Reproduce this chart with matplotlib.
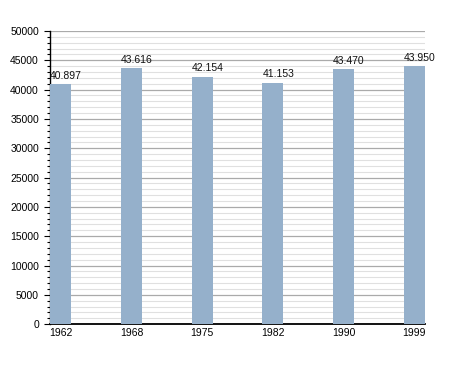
import matplotlib.pyplot as plt
from matplotlib.ticker import MultipleLocator

years = ["1962", "1968", "1975", "1982", "1990", "1999"]
population = [40897, 43616, 42154, 41153, 43470, 43950]
value_labels = ["40.897", "43.616", "42.154", "41.153", "43.470", "43.950"]

plt.rcParams["font.family"] = ["Liberation Sans", "DejaVu Sans"]

fig = plt.figure(figsize=(4.55, 3.73), dpi=100)
ax = fig.add_axes([0.110, 0.131, 0.824, 0.786])

width = 0.3
x = list(range(len(years)))
bars = ax.bar(x, population, width=width, color="#95b0cb", zorder=3)

for xi, val, lab in zip(x, population, value_labels):
    ax.text(xi - width / 2, val + 600, lab, ha="left", va="bottom",
            fontsize=7.5, color="#111111", zorder=4)

ax.set_xlim(-width / 2, len(years) - 1 + width / 2)
ax.set_ylim(0, 50000)
ax.set_xticks(x)
ax.set_xticklabels(years, fontsize=7.5)
ax.yaxis.set_major_locator(MultipleLocator(5000))
ax.yaxis.set_minor_locator(MultipleLocator(1000))
ax.tick_params(axis="y", labelsize=7.5, length=4, width=0.8, pad=4)
ax.tick_params(axis="y", which="minor", length=2.5, width=0.8)
ax.tick_params(axis="x", length=0, pad=3)

ax.grid(axis="y", which="major", color="#aaaaaa", linewidth=0.9, zorder=1)
ax.grid(axis="y", which="minor", color="#e0e0e0", linewidth=0.8, zorder=1)

for s in ["top", "right"]:
    ax.spines[s].set_visible(False)
ax.spines["left"].set_linewidth(1.0)
ax.spines["bottom"].set_linewidth(1.3)

fig.savefig("out.png", dpi=100)
